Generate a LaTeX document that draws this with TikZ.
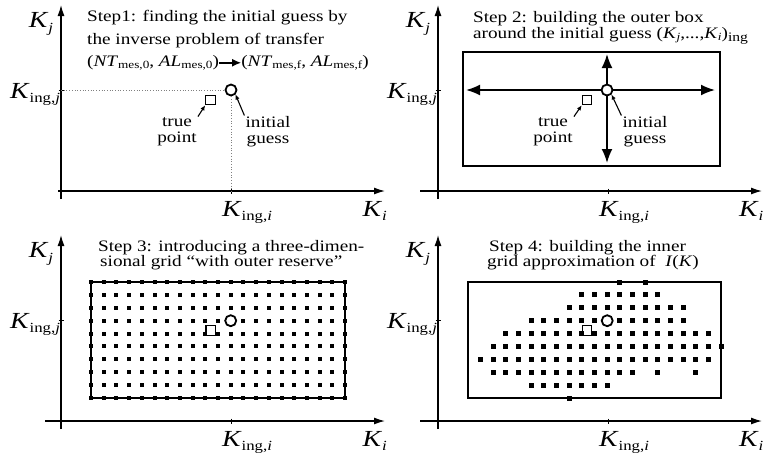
\documentclass[tikz,border=0pt]{standalone}
\usepackage{fontspec}
\setmainfont{Liberation Serif}[FakeStretch=1.2]
\usetikzlibrary{arrows.meta}

\newcommand{\lowsub}[1]{\raisebox{-0.45ex}{\fontsize{14}{14}\selectfont #1}}
\newcommand{\tsub}[1]{\raisebox{-0.4ex}{\fontsize{11}{11}\selectfont #1}}
\newcommand{\kvar}[1]{\textit{K}\lowsub{#1}}

\begin{document}
\begin{tikzpicture}[x=1pt,y=-1pt,
    axis/.style={line width=1.3pt,-{Latex[length=11pt,width=7pt]}},
    title/.style={font=\fontsize{16}{16}\selectfont, anchor=base west, inner sep=0pt},
    klabel/.style={font=\fontsize{23}{23}\selectfont, inner sep=0pt},
    note/.style={font=\fontsize{16}{16}\selectfont, align=center, inner sep=1pt},
    guess/.style={circle, draw, line width=1.8pt, minimum size=11pt, inner sep=0pt, fill=white},
    truept/.style={rectangle, draw, line width=1.2pt, minimum size=9.5pt, inner sep=0pt, fill=white},
    gdot/.style={rectangle, fill, minimum size=#1, inner sep=0pt},
    pointer/.style={line width=1.1pt, -{Latex[length=5pt,width=4.5pt]}},
    bigarrow/.style={line width=1.8pt, -{Latex[length=14pt,width=11pt]}}]
    \useasboundingbox (0,0) rectangle (765,459);
    % axes of the four panels
    \foreach \dx/\dy/\xs/\kx [count=\n] in {0/0/58/387, 377/0/43/386.5, 0/230/45/387, 377/230/43/386.5} {
        \begin{scope}[shift={(\dx,\dy)}]
            \draw[axis] (61,199) -- (61,5);
            \draw[axis] (\xs,191) -- (385,191);
            \draw[line width=1pt] (231,188.5) -- (231,193.5);
            \draw[line width=1pt] (58.5,90) -- (63.5,90);
            \node[klabel] (kj\n) at (41,24) {\kvar{\textit{j}}};
            \node[klabel, anchor=east] (ki\n) at (\kx,211) {\kvar{\textit{i}}};
            \node[klabel, anchor=base] (kii\n) at (247,216) {\kvar{ing,\textit{i}}};
            \node[klabel, anchor=base] (kij\n) at (35,98) {\kvar{ing,\textit{j}}};
        \end{scope}
    }
    % step 1
    \node[title] (s1a) at (87,21) {Step1: finding the initial guess by};
    \node[title] (s1b) at (87,44) {the inverse problem of transfer};
    \node[title] (s1c) at (87,66) {(\textit{NT}\tsub{mes,0}, \textit{AL}\tsub{mes,0})};
    \path (s1c.base east) ++(22,0) node[title] (s1d) {(\textit{NT}\tsub{mes,f}, \textit{AL}\tsub{mes,f})};
    \draw[line width=1.6pt, -{Latex[length=9pt,width=8pt]}] (s1c.east) -- (s1d.west);
    \node[truept] (t1) at (210.5,100) {};
    \node[guess] (g1) at (231,90) {};
    \draw[gray, dotted, line width=0.7pt] (61,90) -- (g1.west);
    \draw[gray, dotted, line width=0.7pt] (g1.south) -- (231,191);
    \node[note] (tl1) at (177,132) {true\\point};
    \node[note] (gl1) at (268,132) {initial\\guess};
    \draw[pointer] (tl1.north east) -- (t1.south west);
    \draw[pointer] (gl1.north west) -- (g1.south east);
    % step 2
    \begin{scope}[shift={(377,0)}]
        \node[title] (s2a) at (96,22) {Step 2: building the outer box};
        \node[title] (s2b) at (96,38) {around the initial guess (\textit{K}\tsub{\textit{j}},...,\textit{K}\tsub{\textit{i}})\raisebox{-0.5ex}{\fontsize{13}{13}\selectfont ing}};
        \draw[line width=2pt] (86,52) rectangle (343,166);
        \node[truept] (t2) at (210,100) {};
        \node[guess] (g2) at (230,90) {};
        \coordinate (w2) at (89,90);
        \coordinate (e2) at (338,90);
        \coordinate (n2) at (230,54);
        \coordinate (b2) at (230,163);
        \foreach \tip in {w2,e2,n2,b2}
            \draw[bigarrow] (g2) -- (\tip);
        \node[note] (tl2) at (176,132) {true\\point};
        \node[note] (gl2) at (268,132) {initial\\guess};
        \draw[pointer] (tl2.north east) -- (t2.south west);
        \draw[pointer] (gl2.north west) -- (g2.south east);
    \end{scope}
    % step 3
    \begin{scope}[shift={(0,230)}]
        \node[title] (s3a) at (98,21) {Step 3: introducing a three-dimen-};
        \node[title] (s3b) at (100,36) {sional grid ``with outer reserve''};
        \draw[line width=2.5pt] (91,52) rectangle (345,168);
        \node[truept] (t3) at (210.7,100.5) {};
        \foreach \c in {0,...,20}
            \foreach \r in {0,...,9}
                \node[gdot=4pt] (d3-\c-\r) at ({91+\c*12.7},{52+\r*12.89}) {};
        \node[guess] (g3) at (230.7,90.7) {};
    \end{scope}
    % step 4
    \begin{scope}[shift={(377,230)}]
        \node[title] (s4a) at (112,21) {Step 4: building the inner};
        \node[title] (s4b) at (110,36) {grid approximation of ~\textit{I}(\textit{K})};
        \draw[line width=2pt] (91,52) rectangle (344,168);
        \node[truept] (t4) at (210,100.5) {};
        \foreach \r/\cols in {0/{12,14}, 1/{9,...,15}, 2/{8,...,17}, 3/{5,...,10,12,13,14,15,16,17},
                4/{3,...,19}, 5/{2,...,20}, 6/{1,...,19}, 7/{2,...,13,15,18}, 8/{5,...,11}, 9/{8}}
            \foreach \c in \cols
                \node[gdot=5pt] (d4-\c-\r) at ({91+\c*12.65},{52+\r*12.89}) {};
        \node[guess] (g4) at (230.2,90.7) {};
    \end{scope}
\end{tikzpicture}
\end{document}
